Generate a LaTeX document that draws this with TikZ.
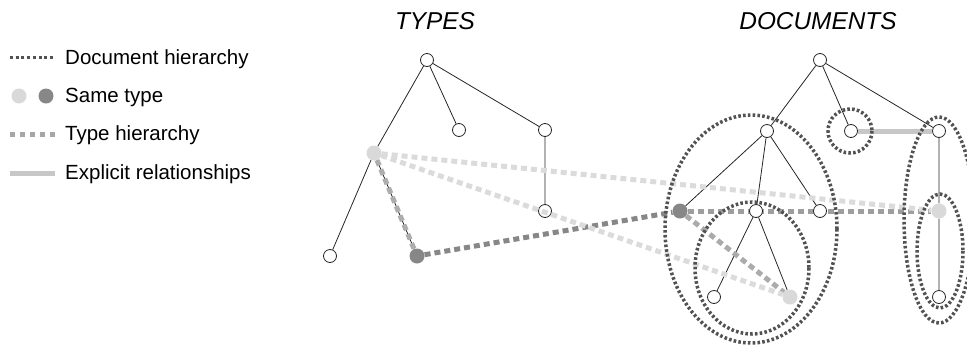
\documentclass[tikz,border=0pt]{standalone}
\usepackage{fontspec}
\setmainfont{Liberation Sans}
\usetikzlibrary{backgrounds}
\colorlet{lightgrey}{black!15}
\colorlet{darkgrey}{black!47}

\begin{document}
\begin{tikzpicture}[x=1pt,y=-1pt,
  every node/.style={inner sep=0},
  item/.style={circle,draw=black!85,line width=0.8pt,fill=white,minimum size=13pt},
  same/.style={circle,fill=#1,minimum size=15pt},
  tree/.style={draw=black!85,line width=0.8pt},
  typeline/.style={draw=#1,line width=5pt,dash pattern=on 6pt off 4pt},
  docgroup/.style={draw=black!68,line width=3.5pt,dash pattern=on 2.6pt off 2.2pt},
  related/.style={draw=black!22,line width=5pt},
  legendtext/.style={anchor=base west,font=\fontsize{20.5}{24}\selectfont},
  heading/.style={anchor=base,font=\fontsize{24.4}{28}\selectfont\itshape}]
\useasboundingbox (0,0) rectangle (967,349);
\clip (0,0) rectangle (967,349);

% legend
\draw[docgroup,line width=3pt,dash pattern=on 3pt off 2.7pt] (10,57) -- (55,57);
\node[legendtext] (keydoc) at (65,64) {Document hierarchy};
\node[same=lightgrey] (keylight) at (19,96) {};
\node[same=darkgrey] (keydark) at (46,96) {};
\node[legendtext] (keysame) at (65,102) {Same type};
\draw[typeline=black!35,dash pattern=on 5pt off 5pt] (10,134) -- (55,134);
\node[legendtext] (keytype) at (65,140) {Type hierarchy};
\draw[related] (10,173) -- (55,173);
\node[legendtext] (keyrel) at (65,179) {Explicit relationships};

\node[heading] (types) at (435,29) {TYPES};
\node[heading] (docs) at (818,29) {DOCUMENTS};

% types
\node[item] (t0) at (427,60) {};
\node[same=lightgrey] (t1) at (374,153) {};
\node[item] (t2) at (459,130) {};
\node[item] (t3) at (545,130) {};
\node[item] (t4) at (330,256) {};
\node[same=darkgrey] (t5) at (417,256) {};
\node[item] (t6) at (545,211) {};

% documents
\node[item] (d0) at (820,60) {};
\node[item] (d1) at (767,131) {};
\node[item] (d2) at (851,131) {};
\node[item] (d3) at (939,131) {};
\node[same=darkgrey] (d4) at (680,211) {};
\node[item] (d5) at (756,211) {};
\node[item] (d6) at (820,211) {};
\node[item] (d7) at (714,297) {};
\node[same=lightgrey] (d8) at (790,297) {};
\node[same=lightgrey] (d9) at (939,211) {};
\node[item] (d10) at (939,297) {};

\begin{pgfonlayer}{background}
\draw[tree] (t0) -- (t1) -- (t4);
\draw[tree] (t0) -- (t2);
\draw[tree] (t0) -- (t3) -- (t6);
\draw[tree] (t1) -- (t5);
\draw[tree] (d0) -- (d1);
\draw[tree] (d0) -- (d2);
\draw[tree] (d0) -- (d3) -- (d9) -- (d10);
\draw[tree] (d1) -- (d4);
\draw[tree] (d1) -- (d5);
\draw[tree] (d1) -- (d6);
\draw[tree] (d5) -- (d7);
\draw[tree] (d5) -- (d8);
\draw[related] (d2) -- (d3);
\draw[typeline=black!32] (t1) -- (t5);
\draw[typeline=darkgrey] (t5) -- (d4);
\draw[typeline=black!38] (d4) -- (d9);
\draw[typeline=black!33] (d4) -- (d8);
\end{pgfonlayer}

\draw[typeline=black!14] (t1) -- (d9);
\draw[typeline=black!14] (t1) -- (d8);

% groups
\draw[docgroup] (751,229) ellipse (86 and 114);
\draw[docgroup] (752,268) ellipse (57 and 66);
\draw[docgroup] (850,131) circle (22);
\draw[docgroup] (939,220) ellipse (35 and 103);
\draw[docgroup] (940,251) ellipse (23 and 57);
\end{tikzpicture}
\end{document}
